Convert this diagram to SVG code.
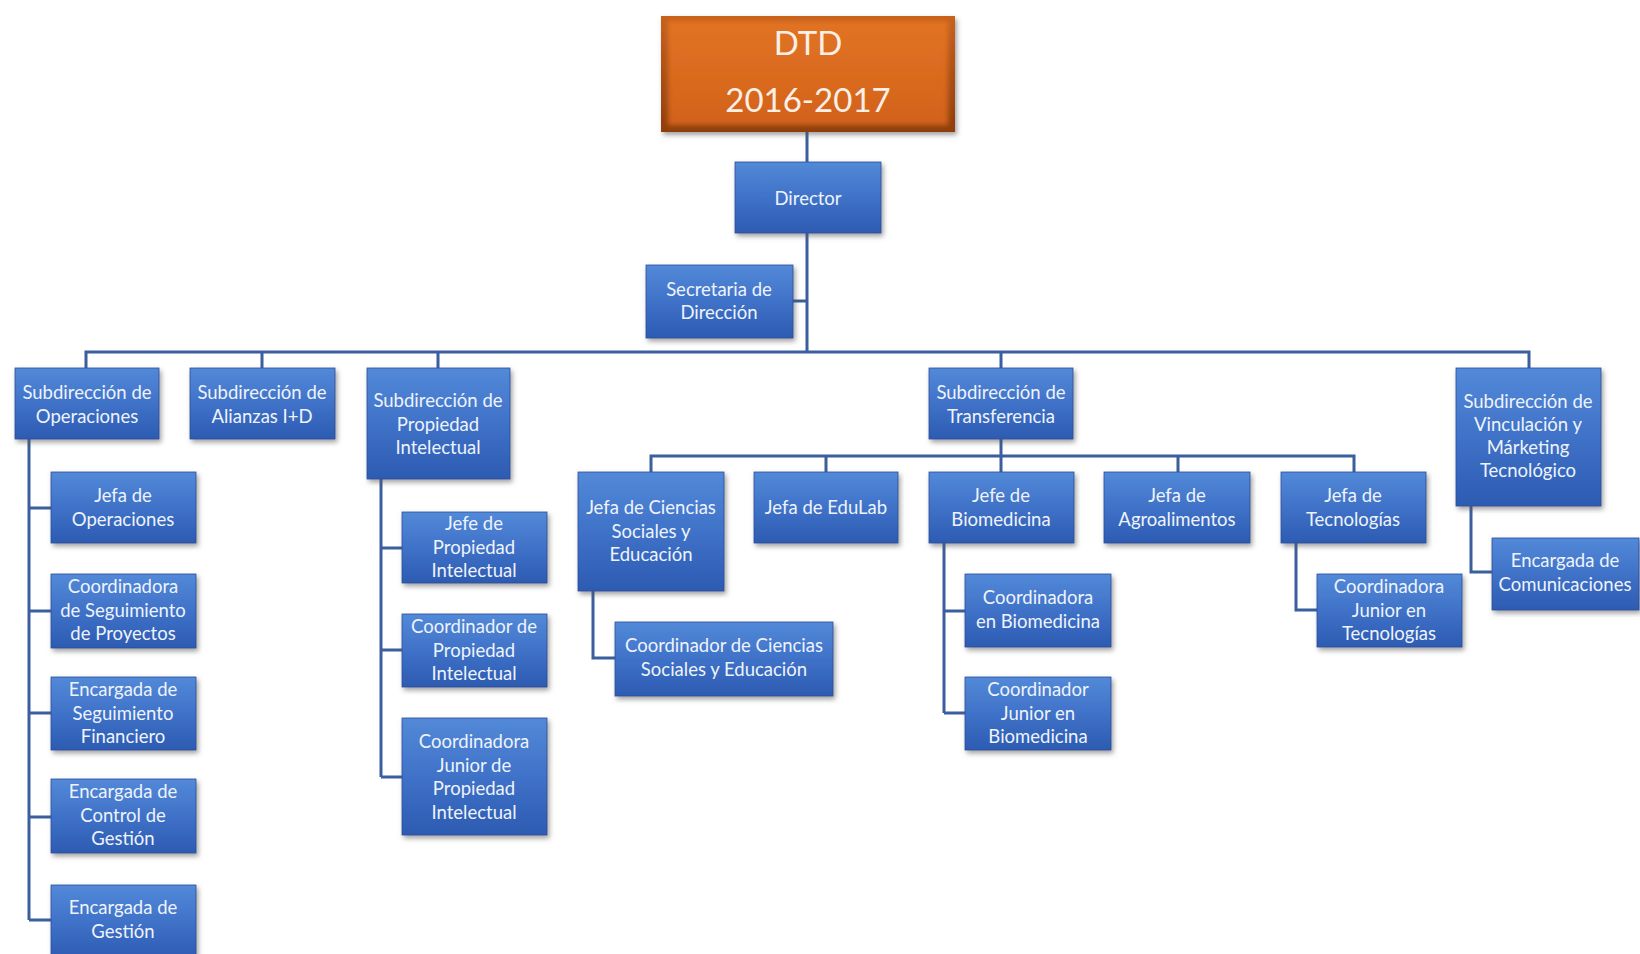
<svg xmlns="http://www.w3.org/2000/svg" width="1640" height="954" viewBox="0 0 1640 954">
<style>
.box{fill:url(#gb);stroke:#2A4F9A;stroke-width:0.8;filter:url(#sh)}
.t{font-family:Lato,"Open Sans","DejaVu Sans",sans-serif;font-size:18.5px;fill:#EEF3FB;text-anchor:middle}
.big{font-family:Lato,"Open Sans","DejaVu Sans",sans-serif;font-size:33px;fill:#FBEFE6;text-anchor:middle}
.c{fill:none;stroke:#3B5E9E;stroke-width:3}
</style>
<defs>
<linearGradient id="gb" x1="0" y1="0" x2="0" y2="1">
<stop offset="0" stop-color="#5389D8"/>
<stop offset="0.5" stop-color="#3F72C8"/>
<stop offset="1" stop-color="#2D5BB2"/>
</linearGradient>
<linearGradient id="go" x1="0" y1="0" x2="0" y2="1">
<stop offset="0" stop-color="#E27324"/>
<stop offset="1" stop-color="#D2621A"/>
</linearGradient>
<linearGradient id="goe" x1="0" y1="0" x2="0" y2="1">
<stop offset="0" stop-color="#C8621F"/>
<stop offset="1" stop-color="#8E3E0E"/>
</linearGradient>
<filter id="sh" x="-10%" y="-10%" width="125%" height="130%">
<feDropShadow dx="2" dy="3" stdDeviation="2.5" flood-color="#555" flood-opacity="0.55"/>
</filter>
<filter id="soft" x="-5%" y="-5%" width="110%" height="110%">
<feGaussianBlur stdDeviation="2.5"/>
</filter>
<clipPath id="dclip"><rect x="661" y="16" width="294" height="116"/></clipPath>
</defs>
<rect width="1640" height="954" fill="#FFFFFF"/>

<g id="connectors">
<path class="c" d="M807 132V162M807 233V352M793 301H807"/>
<path class="c" d="M86 368V352H1529V368M262 352V368M438 352V368M1001 352V368"/>
<path class="c" d="M29 439V920M29 508H51M29 611H51M29 713H51M29 817H51M29 920H51"/>
<path class="c" d="M381 479V777M381 548H402M381 650H402M381 777H402"/>
<path class="c" d="M1001 439V456M651 472V456H1354V472M826 456V472M1001 456V472M1178 456V472"/>
<path class="c" d="M593 591V658H615"/>
<path class="c" d="M944 543V713M944 611H965M944 713H965"/>
<path class="c" d="M1296 543V610H1317"/>
<path class="c" d="M1471 506V572H1492"/>
</g>

<g id="dtd">
<rect x="661" y="16" width="294" height="116" fill="url(#goe)" filter="url(#sh)"/>
<g clip-path="url(#dclip)"><rect x="668" y="21" width="280" height="104" fill="url(#go)" filter="url(#soft)"/></g>
<text class="big" x="808" y="55">DTD</text>
<text class="big" x="808" y="112">2016-2017</text>
</g>

<g id="director"><rect class="box" x="735" y="162" width="146" height="71"/><text class="t" x="808" y="205">Director</text></g>
<g id="secretaria"><rect class="box" x="646" y="265" width="147" height="73"/><text class="t" x="719" y="296">Secretaria de</text><text class="t" x="719" y="319">Dirección</text></g>

<g id="sub-operaciones"><rect class="box" x="15" y="368" width="144" height="71"/><text class="t" x="87" y="399">Subdirección de</text><text class="t" x="87" y="423">Operaciones</text></g>
<g id="sub-alianzas"><rect class="box" x="190" y="368" width="145" height="71"/><text class="t" x="262" y="399">Subdirección de</text><text class="t" x="262" y="423">Alianzas I+D</text></g>
<g id="sub-propiedad"><rect class="box" x="367" y="368" width="143" height="111"/><text class="t" x="438" y="407">Subdirección de</text><text class="t" x="438" y="431">Propiedad</text><text class="t" x="438" y="454">Intelectual</text></g>
<g id="sub-transferencia"><rect class="box" x="929" y="368" width="144" height="71"/><text class="t" x="1001" y="399">Subdirección de</text><text class="t" x="1001" y="423">Transferencia</text></g>
<g id="sub-vinculacion"><rect class="box" x="1456" y="368" width="145" height="138"/><text class="t" x="1528" y="408">Subdirección de</text><text class="t" x="1528" y="431">Vinculación y</text><text class="t" x="1528" y="454">Márketing</text><text class="t" x="1528" y="477">Tecnológico</text></g>

<g id="jefa-operaciones"><rect class="box" x="51" y="472" width="145" height="71"/><text class="t" x="123" y="502">Jefa de</text><text class="t" x="123" y="526">Operaciones</text></g>
<g id="coord-seguimiento"><rect class="box" x="51" y="574" width="145" height="74"/><text class="t" x="123" y="593">Coordinadora</text><text class="t" x="123" y="617">de Seguimiento</text><text class="t" x="123" y="640">de Proyectos</text></g>
<g id="enc-financiero"><rect class="box" x="51" y="677" width="145" height="73"/><text class="t" x="123" y="696">Encargada de</text><text class="t" x="123" y="720">Seguimiento</text><text class="t" x="123" y="743">Financiero</text></g>
<g id="enc-control"><rect class="box" x="51" y="779" width="145" height="74"/><text class="t" x="123" y="798">Encargada de</text><text class="t" x="123" y="822">Control de</text><text class="t" x="123" y="845">Gestión</text></g>
<g id="enc-gestion"><rect class="box" x="51" y="885" width="145" height="74"/><text class="t" x="123" y="914">Encargada de</text><text class="t" x="123" y="938">Gestión</text></g>

<g id="jefe-propiedad"><rect class="box" x="402" y="512" width="145" height="71"/><text class="t" x="474" y="530">Jefe  de</text><text class="t" x="474" y="554">Propiedad</text><text class="t" x="474" y="577">Intelectual</text></g>
<g id="coord-propiedad"><rect class="box" x="402" y="614" width="145" height="73"/><text class="t" x="474" y="633">Coordinador de</text><text class="t" x="474" y="657">Propiedad</text><text class="t" x="474" y="680">Intelectual</text></g>
<g id="coord-junior-propiedad"><rect class="box" x="402" y="718" width="145" height="117"/><text class="t" x="474" y="748">Coordinadora</text><text class="t" x="474" y="772">Junior de</text><text class="t" x="474" y="795">Propiedad</text><text class="t" x="474" y="819">Intelectual</text></g>

<g id="jefa-ciencias"><rect class="box" x="578" y="472" width="146" height="119"/><text class="t" x="651" y="514">Jefa de Ciencias</text><text class="t" x="651" y="538">Sociales y</text><text class="t" x="651" y="561">Educación</text></g>
<g id="jefa-edulab"><rect class="box" x="754" y="472" width="144" height="71"/><text class="t" x="826" y="514">Jefa de EduLab</text></g>
<g id="jefe-biomedicina"><rect class="box" x="929" y="472" width="145" height="71"/><text class="t" x="1001" y="502">Jefe  de</text><text class="t" x="1001" y="526">Biomedicina</text></g>
<g id="jefa-agro"><rect class="box" x="1104" y="472" width="146" height="71"/><text class="t" x="1177" y="502">Jefa de</text><text class="t" x="1177" y="526">Agroalimentos</text></g>
<g id="jefa-tecnologias"><rect class="box" x="1281" y="472" width="145" height="71"/><text class="t" x="1353" y="502">Jefa de</text><text class="t" x="1353" y="526">Tecnologías</text></g>

<g id="coord-ciencias"><rect class="box" x="615" y="622" width="218" height="74"/><text class="t" x="724" y="652">Coordinador de Ciencias</text><text class="t" x="724" y="676">Sociales y Educación</text></g>
<g id="coord-biomedicina"><rect class="box" x="965" y="574" width="146" height="73"/><text class="t" x="1038" y="604">Coordinadora</text><text class="t" x="1038" y="628">en Biomedicina</text></g>
<g id="coord-junior-biomedicina"><rect class="box" x="965" y="677" width="146" height="73"/><text class="t" x="1038" y="696">Coordinador</text><text class="t" x="1038" y="720">Junior en</text><text class="t" x="1038" y="743">Biomedicina</text></g>
<g id="coord-junior-tecnologias"><rect class="box" x="1317" y="574" width="145" height="73"/><text class="t" x="1389" y="593">Coordinadora</text><text class="t" x="1389" y="617">Junior en</text><text class="t" x="1389" y="640">Tecnologías</text></g>
<g id="enc-comunicaciones"><rect class="box" x="1492" y="538" width="147" height="72"/><text class="t" x="1565" y="567">Encargada de</text><text class="t" x="1565" y="591">Comunicaciones</text></g>
</svg>
